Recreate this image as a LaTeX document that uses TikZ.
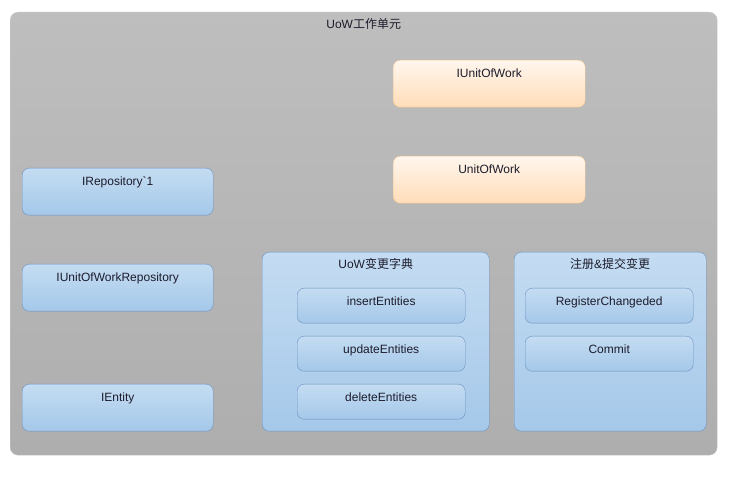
\documentclass[tikz,border=0pt]{standalone}
\usepackage{fontspec}
\setmainfont{Liberation Sans}
\newfontfamily\cjk{Noto Sans CJK SC}
\usepackage{xcolor}
\usepackage{tikz}
\usetikzlibrary{positioning}

\definecolor{uowgraytop}{HTML}{BEBEBE}
\definecolor{uowgraybot}{HTML}{AEAEAE}
\definecolor{uowline}{HTML}{C8C8C8}
\definecolor{orgtop}{HTML}{FFF6EE}
\definecolor{orgbot}{HTML}{FFDDB8}
\definecolor{orgline}{HTML}{F2C48E}
\definecolor{blutop}{HTML}{C4DCF2}
\definecolor{blubot}{HTML}{A5C8E9}
\definecolor{bluline}{HTML}{6A90C0}
\definecolor{txt}{HTML}{1C1C2C}

\begin{document}
\begin{tikzpicture}[x=1pt, y=-1pt, font=\fontsize{12}{14}\selectfont, text=txt,
  frame/.style={draw=uowline, rounded corners=8pt, top color=uowgraytop, bottom color=uowgraybot, anchor=north west, inner sep=0pt, minimum width=707pt, text height=16pt, text depth=427pt, align=center},
  obox/.style={draw=orgline, rounded corners=7pt, top color=orgtop, bottom color=orgbot, anchor=north west, inner sep=0pt, minimum width=192pt, text height=17pt, text depth=30pt},
  bbox/.style={draw=bluline, rounded corners=7pt, top color=blutop, bottom color=blubot, anchor=north west, inner sep=0pt, minimum width=191pt, text height=17pt, text depth=30pt},
  grp/.style={bbox, text height=16pt, text depth=163pt},
  ibox/.style={bbox, minimum width=168pt, text height=17pt, text depth=18pt}]
\useasboundingbox (0,0) rectangle (729,478);
\node[frame] (uow) at (10,12) {UoW{\cjk 工作单元}};
\node[obox] (iuow) at (393,60) {IUnitOfWork};
\node[obox] (uowimpl) at (393,156) {UnitOfWork};
\node[bbox] (irepo) at (22,168) {IRepository\textasciigrave 1};
\node[bbox] (iuowrepo) at (22,264) {IUnitOfWorkRepository};
\node[bbox] (ientity) at (22,384) {IEntity};
\node[grp, minimum width=227pt] (dict) at (262,252) {UoW{\cjk 变更字典}};
\node[ibox] (insert) at (297,288) {insertEntities};
\node[ibox] (update) at (297,336) {updateEntities};
\node[ibox] (delete) at (297,384) {deleteEntities};
\node[grp, minimum width=192pt] (reg) at (514,252) {{\cjk 注册}\&{\cjk 提交变更}};
\node[ibox] (regchg) at (525,288) {RegisterChangeded};
\node[ibox] (commit) at (525,336) {Commit};
\end{tikzpicture}
\end{document}
